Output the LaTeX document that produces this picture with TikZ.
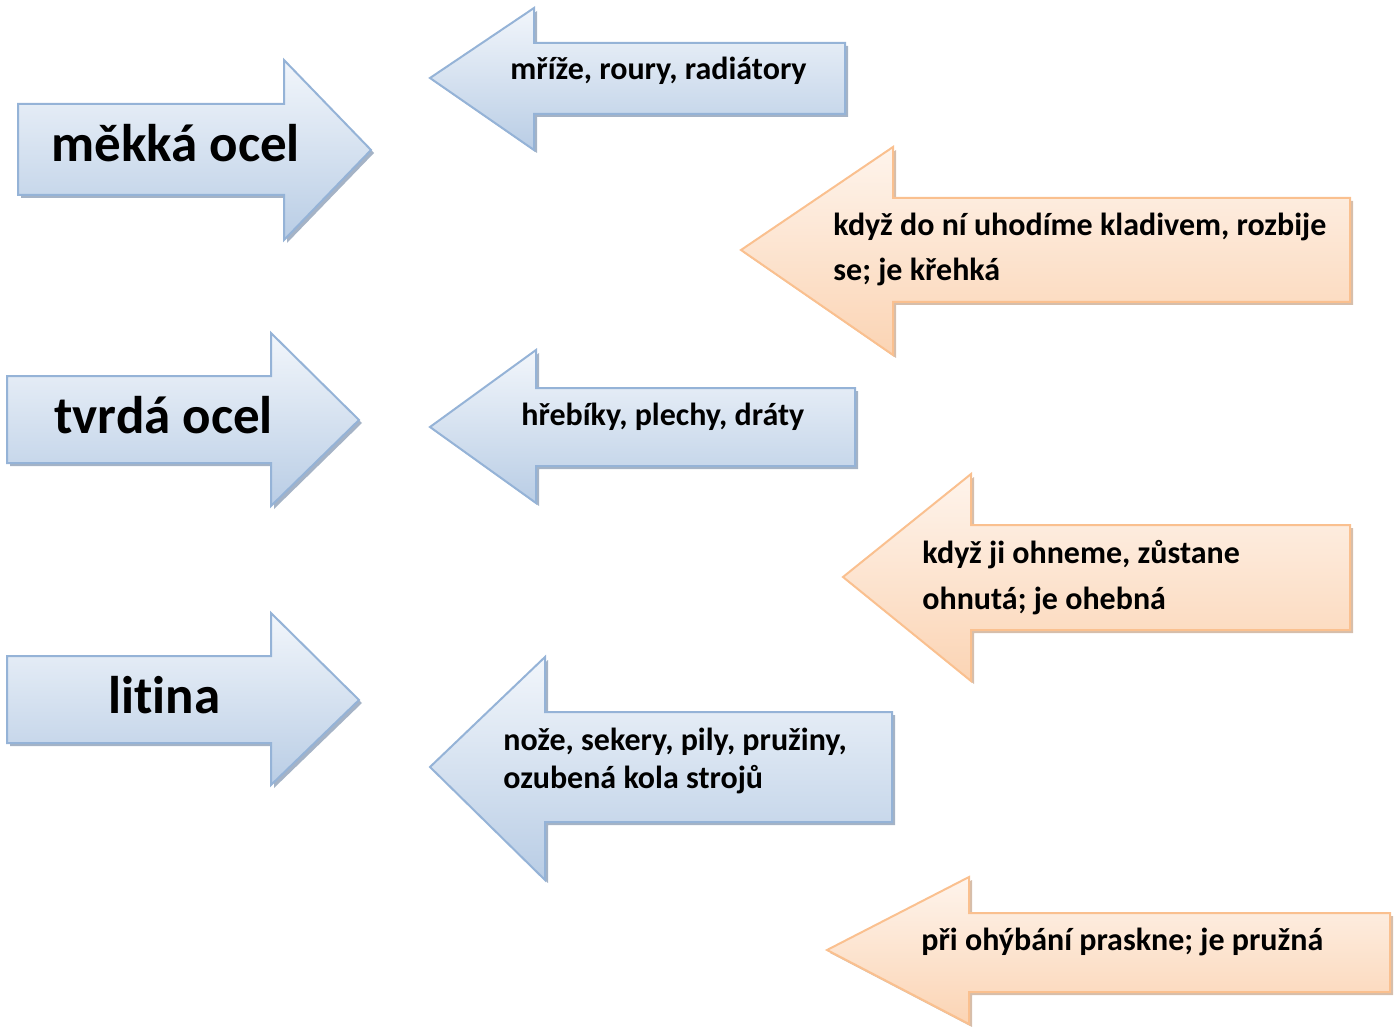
\documentclass[tikz,border=0pt]{standalone}
\usepackage{fontspec}
\setmainfont{Carlito}[Ligatures=NoCommon]
\definecolor{bluetop}{HTML}{F2F6FB}
\definecolor{bluebot}{HTML}{B9CDE5}
\definecolor{blueline}{HTML}{95B3D7}
\definecolor{blueshadow}{HTML}{7F93AE}
\definecolor{orgtop}{HTML}{FEF4EC}
\definecolor{orgbot}{HTML}{FBD4B4}
\definecolor{orgline}{HTML}{FAC08F}
\definecolor{orgshadow}{HTML}{C4A287}
\tikzset{
  bluearrow/.style={top color=bluetop, bottom color=bluebot, draw=blueline, line width=1pt, line join=miter},
  orgarrow/.style={top color=orgtop, bottom color=orgbot, draw=orgline, line width=1pt, line join=miter},
  bluearrow shadow/.style={fill=blueshadow, opacity=0.7},
  orgarrow shadow/.style={fill=orgshadow, opacity=0.7},
  bigtext/.style={font=\fontsize{26.5}{30}\selectfont\bfseries, anchor=base west, inner sep=0pt},
  smalltext/.style={font=\fontsize{16}{19}\selectfont\bfseries, anchor=base west, inner sep=0pt},
}
% #1 style, #2 far body x, #3 body top, #4 body bottom, #5 head base x, #6 head top, #7 head bottom, #8 tip x, #9 tip y
\newcommand\myarrow[9]{%
  \fill[#1 shadow] (#2+3,#3+3)--(#5+3,#3+3)--(#5+3,#6+3)--(#8+3,#9+3)--(#5+3,#7+3)--(#5+3,#4+3)--(#2+3,#4+3)--cycle;
  \filldraw[#1] (#2,#3)--(#5,#3)--(#5,#6)--(#8,#9)--(#5,#7)--(#5,#4)--(#2,#4)--cycle;}
\begin{document}
\begin{tikzpicture}[x=0.5pt,y=-0.5pt]
\useasboundingbox (0,0) rectangle (1398,1027);
% right-pointing arrows
\myarrow{bluearrow}{18}{104}{195}{284}{60}{240}{371}{150}
\myarrow{bluearrow}{7}{376}{463}{271}{333}{506}{359}{420}
\myarrow{bluearrow}{7}{656}{743}{271}{613}{785}{359}{700}
% left-pointing blue arrows
\myarrow{bluearrow}{845}{43}{114}{534}{8}{150}{430}{78}
\myarrow{bluearrow}{855}{388}{466}{536}{350}{503}{430}{427}
\myarrow{bluearrow}{892}{712}{822}{545}{657}{880}{430}{767}
% left-pointing orange arrows
\myarrow{orgarrow}{1350}{198}{302}{893}{147}{355}{741}{250}
\myarrow{orgarrow}{1350}{525}{630}{971}{474}{681}{843}{577}
\myarrow{orgarrow}{1390}{913}{992}{969}{877}{1024}{827}{950}
% texts
\node[bigtext] (t1) at (51,162) {měkká ocel};
\node[bigtext] (t2) at (54,433) {tvrdá ocel};
\node[bigtext] (t3) at (108,713) {litina};
\node[smalltext] (a1) at (510,80) {mříže, roury, radiátory};
\node[smalltext] (a2) at (521,425) {hřebíky, plechy, dráty};
\node[smalltext] (a3) at (503,750) {nože, sekery, pily, pružiny,};
\node[smalltext] (a3b) at (503,788) {ozubená kola strojů};
\node[smalltext] (o1) at (833,236) {když do ní uhodíme kladivem, rozbije};
\node[smalltext] (o1b) at (833,281) {se; je křehká};
\node[smalltext] (o2) at (922,563) {když ji ohneme, zůstane};
\node[smalltext] (o2b) at (922,609) {ohnutá; je ohebná};
\node[smalltext] (o3) at (921,950) {při ohýbání praskne; je pružná};
\end{tikzpicture}
\end{document}
